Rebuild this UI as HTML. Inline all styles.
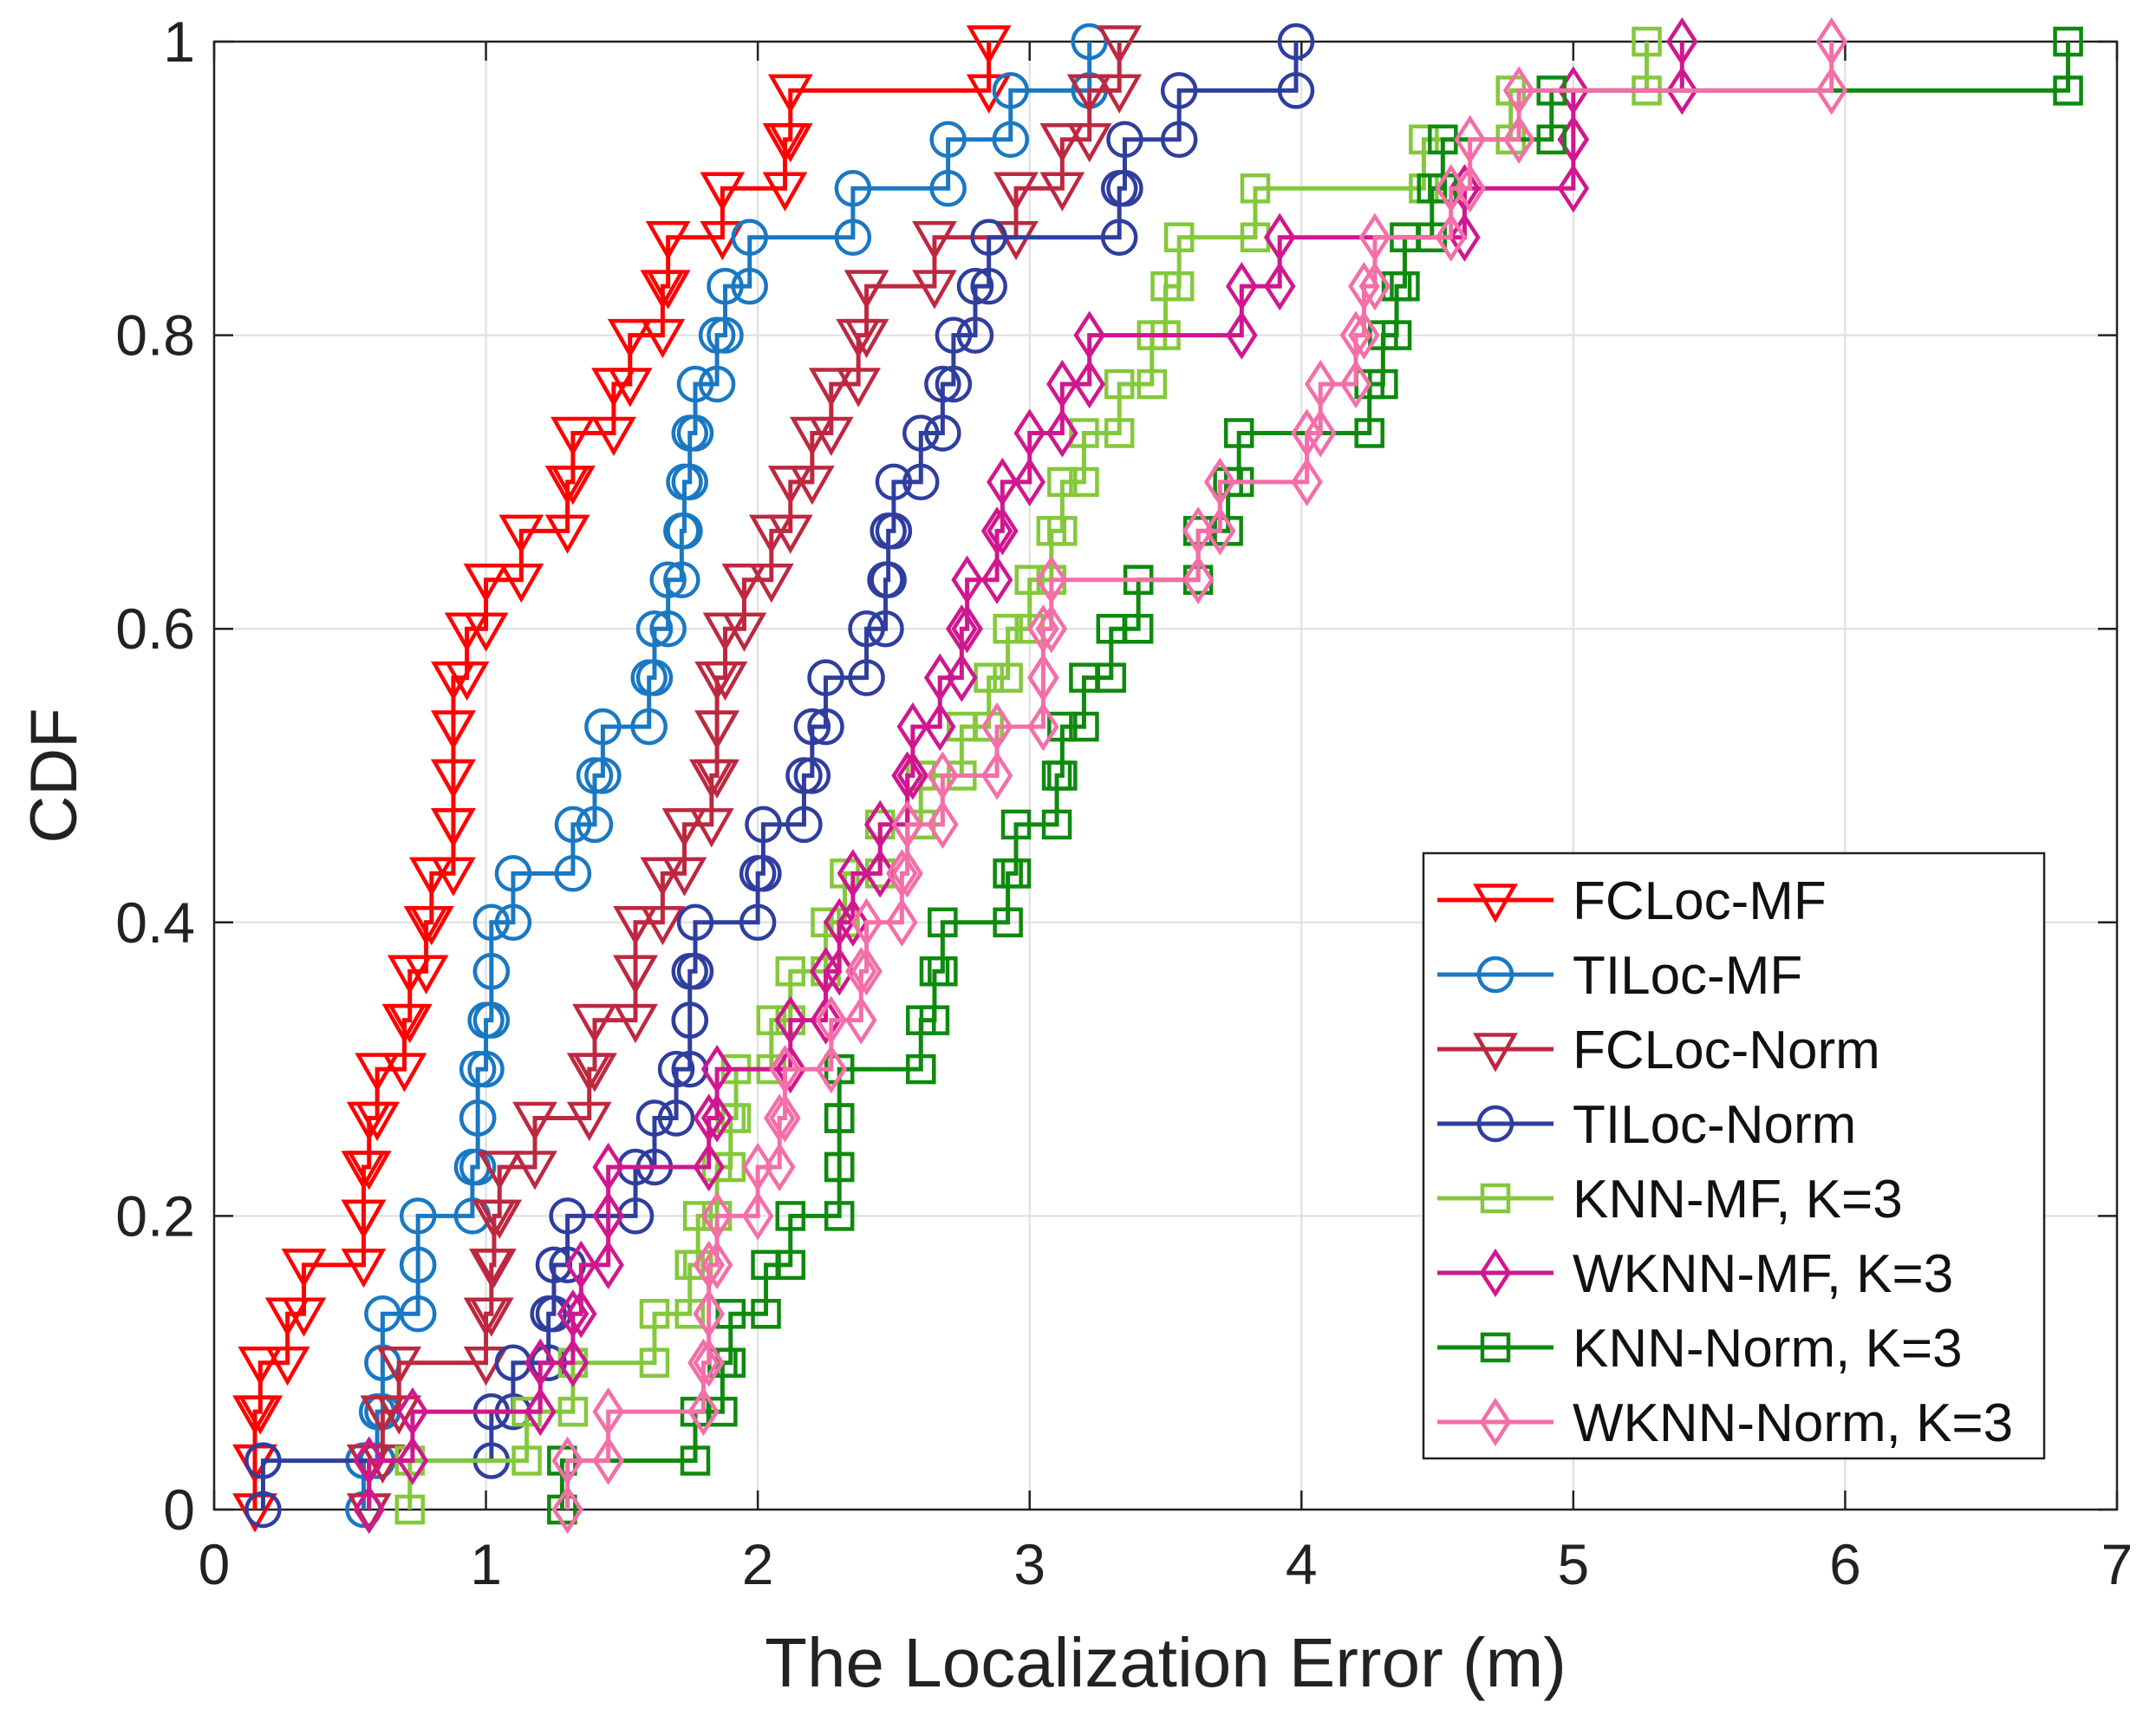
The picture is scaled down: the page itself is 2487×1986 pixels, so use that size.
<!DOCTYPE html>
<html><head><meta charset="utf-8"><style>
html,body{margin:0;padding:0;background:#fff;}
svg{display:block;font-family:"Liberation Sans",sans-serif;}
</style></head><body>
<svg id="chart" width="2487" height="1986" viewBox="0 0 2487 1986" xmlns="http://www.w3.org/2000/svg"></svg>
<script>
const xTicks = [0,1,2,3,4,5,6,7];
const yTicks = [0,0.2,0.4,0.6,0.8,1];
const yTickLabels = ["0","0.2","0.4","0.6","0.8","1"];
const seriesNames = ["FCLoc-MF","TILoc-MF","FCLoc-Norm","TILoc-Norm","KNN-MF, K=3","WKNN-MF, K=3","KNN-Norm, K=3","WKNN-Norm, K=3"];
const fclocMF = [0.15,0.15,0.17,0.27,0.33,0.55,0.55,0.57,0.6,0.7,0.72,0.78,0.8,0.88,0.88,0.88,0.88,0.93,1.0,1.13,1.3,1.32,1.47,1.53,1.65,1.67,1.87,2.1,2.12,2.85];
const tilocMF = [0.55,0.6,0.62,0.62,0.75,0.75,0.95,0.97,0.97,1.0,1.02,1.02,1.1,1.32,1.4,1.43,1.6,1.62,1.67,1.72,1.73,1.75,1.77,1.85,1.88,1.97,2.35,2.7,2.93,3.22];
const fclocNorm = [0.57,0.62,0.68,1.0,1.02,1.03,1.05,1.18,1.38,1.4,1.55,1.55,1.65,1.73,1.83,1.85,1.85,1.88,1.95,2.05,2.12,2.2,2.27,2.37,2.4,2.65,2.95,3.12,3.22,3.33];
const tilocNorm = [0.18,1.02,1.1,1.23,1.25,1.3,1.55,1.62,1.7,1.75,1.75,1.77,2.0,2.02,2.17,2.2,2.25,2.4,2.47,2.48,2.5,2.6,2.68,2.72,2.8,2.85,3.33,3.35,3.55,3.98];
const knnMF = [0.72,1.15,1.32,1.62,1.75,1.78,1.85,1.9,1.92,2.05,2.12,2.25,2.32,2.45,2.6,2.75,2.85,2.92,3.0,3.08,3.12,3.2,3.33,3.45,3.5,3.55,3.83,4.45,4.77,5.27];
const wknnMF = [0.57,0.73,1.2,1.32,1.35,1.45,1.45,1.82,1.85,2.12,2.25,2.3,2.35,2.45,2.55,2.57,2.67,2.75,2.77,2.88,2.9,3.0,3.12,3.22,3.78,3.92,4.6,5.0,5.0,5.4];
const knnNorm = [1.28,1.77,1.87,1.9,2.03,2.12,2.3,2.3,2.3,2.6,2.65,2.68,2.92,2.95,3.1,3.12,3.2,3.3,3.4,3.62,3.73,3.77,4.25,4.3,4.35,4.38,4.48,4.52,4.92,6.82];
const wknnNorm = [1.3,1.45,1.8,1.82,1.82,1.85,2.0,2.08,2.1,2.27,2.38,2.4,2.53,2.55,2.68,2.88,3.05,3.05,3.08,3.62,3.7,4.02,4.07,4.2,4.23,4.27,4.55,4.62,4.8,5.95];

const L=247,R=2442,T=48,B=1741;
const xs=v=>L+(R-L)*v/7, ys=v=>B-(B-T)*v;
const NS="http://www.w3.org/2000/svg";
const svg=document.getElementById('chart');
function mk(tag,attrs,parent){const e=document.createElementNS(NS,tag);for(const k in attrs)e.setAttribute(k,attrs[k]);(parent||svg).appendChild(e);return e;}

const grid=mk('g',{});


xTicks.forEach(t=>{mk('line',{x1:xs(t),x2:xs(t),y1:T,y2:B,stroke:'#dedede','stroke-width':2},grid);});
yTicks.forEach(t=>{mk('line',{x1:L,x2:R,y1:ys(t),y2:ys(t),stroke:'#dedede','stroke-width':2},grid);});

const axes=mk('g',{});


mk('rect',{x:L,y:T,width:R-L,height:B-T,fill:'none',stroke:'#222','stroke-width':2.5},axes);
xTicks.forEach((t,i)=>{
  mk('line',{x1:xs(t),x2:xs(t),y1:B,y2:B-22,stroke:'#222','stroke-width':2.5},axes);
  mk('line',{x1:xs(t),x2:xs(t),y1:T,y2:T+22,stroke:'#222','stroke-width':2.5},axes);
  const tx=mk('text',{x:xs(t),y:B+86,'font-size':66,'text-anchor':'middle',fill:'#222'},axes);
  tx.textContent=String(t);
  
  
});
yTicks.forEach((t,i)=>{
  mk('line',{x1:L,x2:L+22,y1:ys(t),y2:ys(t),stroke:'#222','stroke-width':2.5},axes);
  mk('line',{x1:R,x2:R-22,y1:ys(t),y2:ys(t),stroke:'#222','stroke-width':2.5},axes);
  const tx=mk('text',{x:L-22,y:ys(t)+23,'font-size':66,'text-anchor':'end',fill:'#222'},axes);
  tx.textContent=yTickLabels[i];
  
  
});
const xt=mk('text',{x:(L+R)/2,y:1945,'font-size':80,'text-anchor':'middle',fill:'#222'});
xt.textContent='The Localization Error (m)';


const yt=mk('text',{x:0,y:0,'font-size':76,'text-anchor':'middle',fill:'#222',transform:`translate(88,${(T+B)/2}) rotate(-90)`});
yt.textContent='CDF';



function marker(g,type,x,y,color){
  if(type==='tri'){const s=22;mk('polygon',{points:`${x-s},${y-s*0.75} ${x+s},${y-s*0.75} ${x},${y+s*1.0}`,fill:'none',stroke:color,'stroke-width':4.5},g);}
  else if(type==='circ'){mk('circle',{cx:x,cy:y,r:19,fill:'none',stroke:color,'stroke-width':4.5},g);}
  else if(type==='sq'){mk('rect',{x:x-15,y:y-15,width:30,height:30,fill:'none',stroke:color,'stroke-width':4.5},g);}
  else {const s=24;mk('polygon',{points:`${x},${y-s} ${x+s*0.65},${y} ${x},${y+s} ${x-s*0.65},${y}`,fill:'none',stroke:color,'stroke-width':4.5},g);}
}
const allData=[fclocMF,tilocMF,fclocNorm,tilocNorm,knnMF,wknnMF,knnNorm,wknnNorm];
const colors=['#ff0000','#1a78c2','#bd2840','#2f3e9e','#84c83c','#d0178f','#0e8a0e','#f46ea8'];
const types=['tri','circ','tri','circ','sq','diam','sq','diam'];
const keys=['fcloc-mf','tiloc-mf','fcloc-norm','tiloc-norm','knn-mf','wknn-mf','knn-norm','wknn-norm'];
allData.forEach((d,si)=>{
  const g=mk('g',{});
  
  
  const n=d.length;
  let p=`M${xs(d[0])},${ys(0)}`;
  d.forEach((v,i)=>{p+=` L${xs(v)},${ys(i/n)} L${xs(v)},${ys((i+1)/n)}`;if(i<n-1)p+=` L${xs(d[i+1])},${ys((i+1)/n)}`;});
  mk('path',{d:p,fill:'none',stroke:colors[si],'stroke-width':5},g);
  d.forEach((v,i)=>{marker(g,types[si],xs(v),ys(i/n),colors[si]);marker(g,types[si],xs(v),ys((i+1)/n),colors[si]);});
});

const lg=mk('g',{});


mk('rect',{x:1642,y:984,width:716,height:698,fill:'#fff',stroke:'#222','stroke-width':2.5},lg);
seriesNames.forEach((nm,i)=>{
  const y=1038+i*86;
  const e=mk('g',{},lg);
  
  
  mk('line',{x1:1658,x2:1792,y1:y,y2:y,stroke:colors[i],'stroke-width':5},e);
  marker(e,types[i],1725,y,colors[i]);
  const t=mk('text',{x:1814,y:y+22,'font-size':62,fill:'#111'},e);
  t.textContent=nm;
});
</script>
</body></html>
